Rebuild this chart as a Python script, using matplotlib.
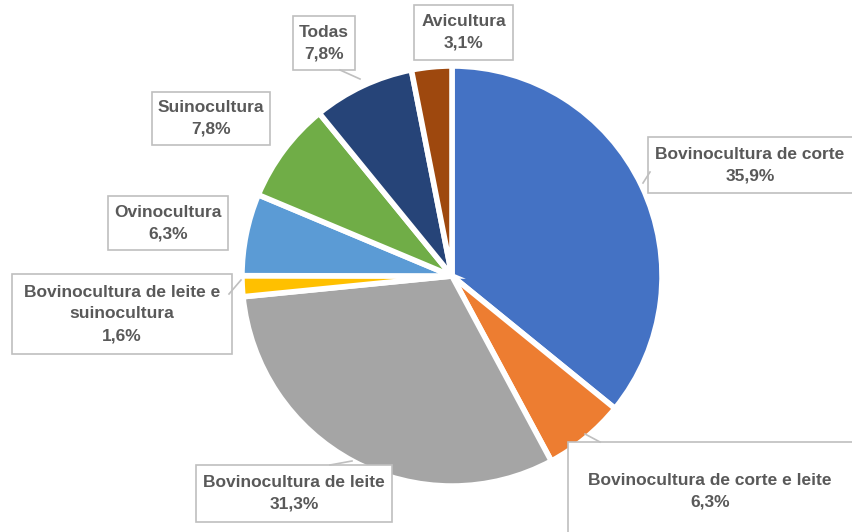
import matplotlib.pyplot as plt
from matplotlib.patches import Rectangle

labels = ['Bovinocultura de corte', 'Bovinocultura de corte e leite',
          'Bovinocultura de leite', 'Bovinocultura de leite e\nsuinocultura',
          'Ovinocultura', 'Suinocultura', 'Todas', 'Avicultura']
values = [35.9, 6.3, 31.3, 1.6, 6.3, 7.8, 7.8, 3.1]
colors = ['#4472C4', '#ED7D31', '#A5A5A5', '#FFC000',
          '#5B9BD5', '#70AD47', '#264478', '#9E480E']

W, H = 852, 532
# label boxes in pixel coords (x0, y0, x1, y1), top-left origin
boxes = [(648, 137, 860, 193), (568, 442, 860, 540), (196, 465, 392, 522),
         (12, 274, 232, 354), (108, 196, 228, 250), (152, 92, 270, 145),
         (293, 16, 355, 70), (414, 5, 513, 60)]
# callout pointer: (base x, base y, tip x, tip y) in pixels
pointers = {0: (650, 172, 643, 183), 1: (600, 442, 585, 434),
            2: (330, 465, 352, 461), 3: (229, 294, 241, 280),
            6: (340, 70, 360, 79)}

fig = plt.figure(figsize=(W / 100, H / 100), dpi=100)
ax = fig.add_axes([0, 0, 1, 1])

cx, cy, r = 452, 276, 210
ax.pie(values, colors=colors, startangle=90, counterclock=False,
       center=(cx, H - cy), radius=r, explode=[0.035] * len(values),
       wedgeprops=dict(edgecolor='white', linewidth=4), frame=True)
ax.set_xlim(0, W)
ax.set_ylim(0, H)
ax.axis('off')

for i, (lab, val) in enumerate(zip(labels, values)):
    x0, y0, x1, y1 = boxes[i]
    ax.add_patch(Rectangle((x0, H - y1), x1 - x0, y1 - y0, facecolor='white',
                           edgecolor='#BFBFBF', linewidth=1.2, zorder=3,
                           clip_on=False))
    if i in pointers:
        bx, by, tx, ty = pointers[i]
        ax.plot([bx, tx], [H - by, H - ty], color='#BFBFBF', lw=1.2, zorder=4)
    txt = lab + '\n' + f'{val:.1f}'.replace('.', ',') + '%'
    ax.text((x0 + min(x1, W)) / 2, H - (y0 + y1) / 2, txt, ha='center',
            va='center', fontsize=12.5, fontweight='bold', color='#595959',
            family='Liberation Sans', linespacing=1.55, zorder=5)

fig.savefig('out.png', dpi=100)
